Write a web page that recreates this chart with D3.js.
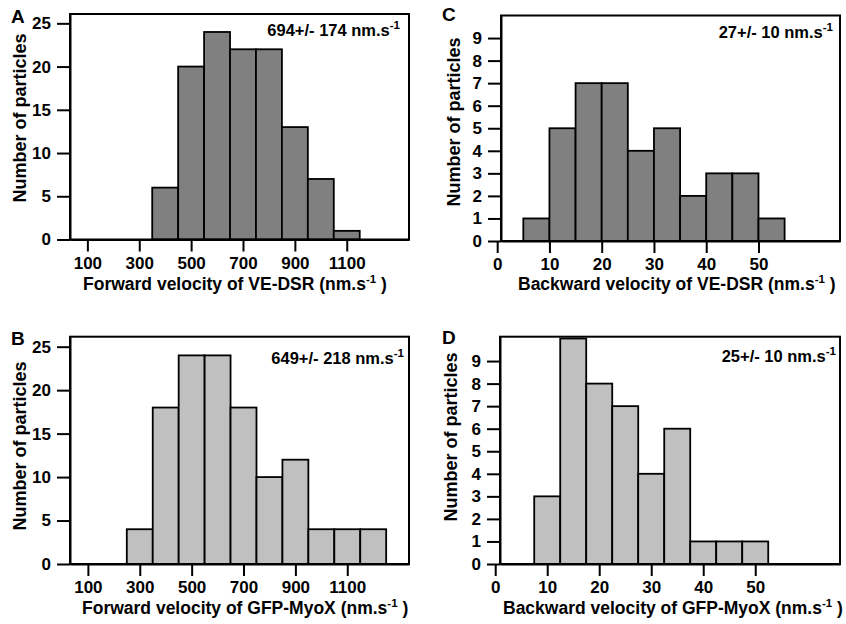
<!DOCTYPE html>
<html><head><meta charset="utf-8">
<script src="https://cdn.jsdelivr.net/npm/d3@7"></script>
<style>
body{margin:0;background:#fff}
svg text{font-family:"Liberation Sans",Arial,Helvetica,sans-serif;font-weight:bold;fill:#000}
</style>
</head><body>
<svg id="chart" width="846" height="624"></svg>
<script>
// ---- data ----
const forwardXTicks = [100, 300, 500, 700, 900, 1100];
const forwardYTicks = [0, 5, 10, 15, 20, 25];
const backwardXTicks = [0, 10, 20, 30, 40, 50];
const backwardYTicks = [0, 1, 2, 3, 4, 5, 6, 7, 8, 9];
const forwardBinWidth = 100;
const backwardBinWidth = 5;
const aBinStarts = [350, 450, 550, 650, 750, 850, 950, 1050];
const aCounts = [6, 20, 24, 22, 22, 13, 7, 1];
const bBinStarts = [250, 350, 450, 550, 650, 750, 850, 950, 1050, 1150];
const bCounts = [4, 18, 24, 24, 18, 10, 12, 4, 4, 4];
const cBinStarts = [5, 10, 15, 20, 25, 30, 35, 40, 45, 50];
const cCounts = [1, 5, 7, 7, 4, 5, 2, 3, 3, 1];
const dBinStarts = [7.5, 12.5, 17.5, 22.5, 27.5, 32.5, 37.5, 42.5, 47.5];
const dCounts = [3, 10, 8, 7, 4, 6, 1, 1, 1];
const panelLetters = ["A", "B", "C", "D"];
const meanLabels = ["694+/- 174 nm.s", "649+/- 218 nm.s", "27+/- 10 nm.s", "25+/- 10 nm.s"];
const xTitles = ["Forward velocity of VE-DSR (nm.s", "Forward velocity of GFP-MyoX (nm.s",
                 "Backward velocity of VE-DSR (nm.s", "Backward velocity of GFP-MyoX (nm.s"];
const yTitle = "Number of particles";

const svg = d3.select("#chart");

const panels = [
  {letter: panelLetters[0], starts: aBinStarts, counts: aCounts, bw: forwardBinWidth, fill: "#808080",
   box: [70, 409, 14, 239.5], xDom: [33, 1340], yDom: [0, 26.08], xTicks: forwardXTicks, yTicks: forwardYTicks,
   letterPos: [11, 23], ann: meanLabels[0], annPos: [400, 36], xt: xTitles[0], xtPos: [83, 290], ytPos: [26, 118]},
  {letter: panelLetters[1], starts: bBinStarts, counts: bCounts, bw: forwardBinWidth, fill: "#c0c0c0",
   box: [70, 409, 336.7, 564], xDom: [31, 1338], yDom: [0, 26.15], xTicks: forwardXTicks, yTicks: forwardYTicks,
   letterPos: [11, 345], ann: meanLabels[1], annPos: [404, 364], xt: xTitles[1], xtPos: [82, 614], ytPos: [26, 446]},
  {letter: panelLetters[2], starts: cBinStarts, counts: cCounts, bw: backwardBinWidth, fill: "#808080",
   box: [501, 840, 15.5, 241], xDom: [0.73, 65.6], yDom: [0, 10], xTicks: backwardXTicks, yTicks: backwardYTicks,
   letterPos: [442, 21], ann: meanLabels[2], annPos: [833, 38], xt: xTitles[2], xtPos: [518, 290], ytPos: [460, 122]},
  {letter: panelLetters[3], starts: dBinStarts, counts: dCounts, bw: backwardBinWidth, fill: "#c0c0c0",
   box: [500, 840, 336.7, 564], xDom: [0.92, 66.3], yDom: [0, 10.08], xTicks: backwardXTicks, yTicks: backwardYTicks,
   letterPos: [442, 344], ann: meanLabels[3], annPos: [836, 362], xt: xTitles[3], xtPos: [503, 614], ytPos: [457, 437]}
];

function addSup(textSel, main, tail, size) {
  textSel.append("tspan").text(main);
  textSel.append("tspan").attr("font-size", 11.5).attr("dy", -7).text("-1");
  if (tail) textSel.append("tspan").attr("font-size", size).attr("dy", 7).text(tail);
}

panels.forEach(p => {
  const [x0, x1, y0, y1] = p.box;
  const x = d3.scaleLinear().domain(p.xDom).range([x0, x1]);
  const y = d3.scaleLinear().domain(p.yDom).range([y1, y0]);
  const g = svg.append("g");

  // bars
  g.selectAll("rect.bar").data(p.counts).join("rect")
    .attr("class", "bar")
    .attr("x", (d, i) => x(p.starts[i]))
    .attr("width", (d, i) => x(p.starts[i] + p.bw) - x(p.starts[i]))
    .attr("y", d => y(d))
    .attr("height", d => y(0) - y(d))
    .attr("fill", p.fill).attr("stroke", "#000").attr("stroke-width", 1.8);

  // frame
  g.append("rect").attr("x", x0).attr("y", y0).attr("width", x1 - x0).attr("height", y1 - y0)
    .attr("fill", "none").attr("stroke", "#000").attr("stroke-width", 2);

  // axes
  const yAxis = g.append("g").attr("transform", `translate(${x0},0)`)
    .call(d3.axisLeft(y).tickValues(p.yTicks).tickSize(13).tickPadding(6).tickSizeOuter(0).tickFormat(d3.format("d")));
  const xAxis = g.append("g").attr("transform", `translate(0,${y1})`)
    .call(d3.axisBottom(x).tickValues(p.xTicks).tickSize(12).tickPadding(5).tickSizeOuter(0).tickFormat(d3.format("d")));
  [yAxis, xAxis].forEach(a => {
    a.select(".domain").attr("stroke", "#000").attr("stroke-width", 2);
    a.selectAll(".tick line").attr("stroke", "#000").attr("stroke-width", 2);
    a.selectAll(".tick text").attr("font-size", 17).attr("font-family", null).attr("fill", "#000");
  });

  // panel letter
  g.append("text").attr("x", p.letterPos[0]).attr("y", p.letterPos[1]).attr("font-size", 19).text(p.letter);

  // annotation
  const ann = g.append("text").attr("x", p.annPos[0]).attr("y", p.annPos[1]).attr("font-size", 16.5).attr("text-anchor", "end");
  addSup(ann, p.ann, null, 16.5);

  // x title
  const xt = g.append("text").attr("x", p.xtPos[0]).attr("y", p.xtPos[1]).attr("font-size", 17.5);
  addSup(xt, p.xt, " )", 17.5);

  // y title
  g.append("text").attr("transform", `translate(${p.ytPos[0]},${p.ytPos[1]}) rotate(-90)`)
    .attr("text-anchor", "middle").attr("font-size", 18).text(yTitle);
});
</script>
</body></html>
